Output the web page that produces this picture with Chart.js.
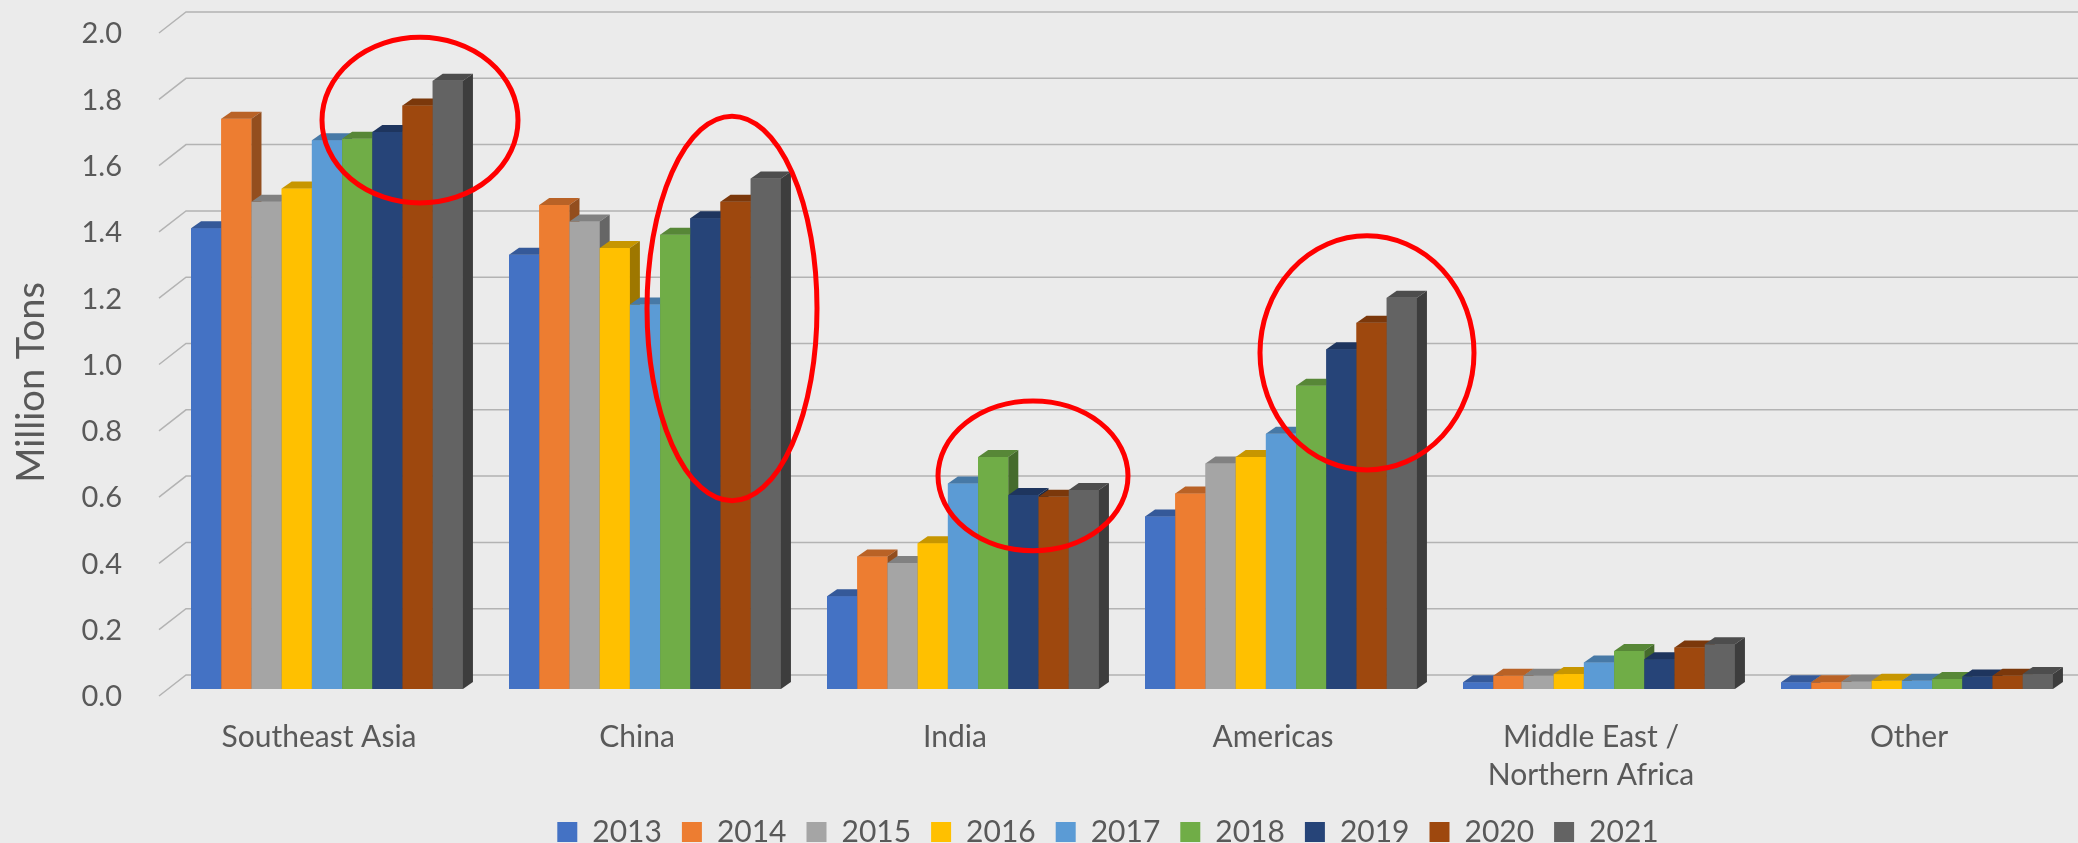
<!DOCTYPE html>
<html><head><meta charset="utf-8">
<script src="https://cdn.jsdelivr.net/npm/chart.js@4.4.1/dist/chart.umd.min.js"></script>
<style>html,body{margin:0;padding:0;background:#EBEBEB;overflow:hidden}canvas{display:block}</style>
</head><body>
<canvas id="ch" width="2078" height="843"></canvas>
<script>
// Region exports by year, 3D-look clustered columns (Excel style)
const regions=["Southeast Asia","China","India","Americas",["Middle East /","Northern Africa"],"Other"];
const years=["2013","2014","2015","2016","2017","2018","2019","2020","2021"];
const yTicks=[0,0.2,0.4,0.6,0.8,1.0,1.2,1.4,1.6,1.8,2.0];
const v2013=[1.39,1.31,0.28,0.52,0.02,0.02];
const v2014=[1.72,1.46,0.40,0.59,0.04,0.02];
const v2015=[1.47,1.41,0.38,0.68,0.04,0.022];
const v2016=[1.51,1.33,0.44,0.70,0.045,0.025];
const v2017=[1.655,1.16,0.62,0.77,0.08,0.025];
const v2018=[1.66,1.37,0.70,0.915,0.115,0.03];
const v2019=[1.68,1.42,0.585,1.025,0.09,0.038];
const v2020=[1.76,1.47,0.58,1.105,0.125,0.04];
const v2021=[1.835,1.54,0.60,1.18,0.135,0.045];
const series=[v2013,v2014,v2015,v2016,v2017,v2018,v2019,v2020,v2021];
const colors=["#4472C4","#ED7D31","#A5A5A5","#FFC000","#5B9BD5","#70AD47","#264478","#9E480E","#636363"];
// red hand-drawn rings: category index, px offset, centre value, x radius px, y radius in value units
const rings=[{c:0,dx:93,v:1.716,rx:98,rv:0.25},{c:1,dx:87,v:1.148,rx:85,rv:0.58},{c:2,dx:70,v:0.643,rx:95,rv:0.226},{c:3,dx:86,v:1.014,rx:107,rv:0.353}];

const DX=10,DY=7;
function shade(hex,f){const n=parseInt(hex.slice(1),16);return `rgb(${Math.round((n>>16)*f)},${Math.round(((n>>8)&255)*f)},${Math.round((n&255)*f)})`;}
function poly(ctx,pts){ctx.beginPath();pts.forEach((p,i)=>i?ctx.lineTo(p[0],p[1]):ctx.moveTo(p[0],p[1]));ctx.closePath();ctx.fill();}

const wall={id:"wall",beforeDatasetsDraw(chart){
  const {ctx,chartArea:a,scales:{y}}=chart;ctx.save();ctx.strokeStyle="#B3B3B3";ctx.lineWidth=1.5;
  y.ticks.forEach(t=>{const py=y.getPixelForValue(t.value);ctx.beginPath();ctx.moveTo(a.left-9,py+7);ctx.lineTo(a.left+18,py-14);ctx.lineTo(chart.width,py-14);ctx.stroke();});
  ctx.restore();}};
// redraw the columns left to right so each front hides the side of the one before it
const bar3d={id:"bar3d",afterDatasetsDraw(chart){
  const ctx=chart.ctx;ctx.save();
  chart.data.datasets.forEach((ds,i)=>{const col=ds.backgroundColor;
    chart.getDatasetMeta(i).data.forEach(b=>{const p=b.getProps(["x","y","base","width"],true);const l=p.x-p.width/2,r=p.x+p.width/2,t=p.y,bs=p.base;
      b.draw(ctx);
      ctx.fillStyle=shade(col,0.78);poly(ctx,[[l,t],[r,t],[r+DX,t-DY],[l+DX,t-DY]]);
      ctx.fillStyle=shade(col,0.62);poly(ctx,[[r,t],[r+DX,t-DY],[r+DX,bs-DY],[r,bs]]);});});
  ctx.restore();}};
const extras={id:"extras",
  afterLayout(chart){const lg=chart.legend;lg.left+=70;lg.right+=70;},
  afterDraw(chart){
    const {ctx,chartArea:a,scales:{x,y}}=chart;ctx.save();
    ctx.translate(32,(a.top+a.bottom)/2+25);ctx.rotate(-Math.PI/2);ctx.fillStyle="#595959";ctx.font="38px Lato";ctx.textAlign="center";ctx.textBaseline="middle";ctx.fillText("Million Tons",0,0);
    ctx.restore();ctx.save();ctx.strokeStyle="#FF0000";ctx.lineWidth=5;
    rings.forEach(r=>{const cx=x.getPixelForValue(r.c)+r.dx,cy=y.getPixelForValue(r.v),ry=y.getPixelForValue(0)-y.getPixelForValue(r.rv);ctx.beginPath();ctx.ellipse(cx,cy,r.rx,ry,0,0,Math.PI*2);ctx.stroke();});
    ctx.restore();}};

Chart.defaults.font.family="Lato";Chart.defaults.color="#595959";
new Chart(document.getElementById("ch"),{type:"bar",
  data:{labels:regions,datasets:years.map((yr,i)=>({label:yr,data:series[i],backgroundColor:colors[i],borderWidth:0}))},
  options:{responsive:false,animation:false,devicePixelRatio:1,
    layout:{padding:{top:26,right:2,left:0,bottom:-14}},
    datasets:{bar:{categoryPercentage:0.855,barPercentage:1}},
    plugins:{legend:{position:"bottom",labels:{boxWidth:20,boxHeight:20,padding:20,font:{size:30}}},tooltip:{enabled:false}},
    scales:{
      x:{grid:{display:false},border:{display:false},ticks:{font:{size:30,lineHeight:1.27},padding:21,labelOffset:-8,maxRotation:0,autoSkip:false},
        afterFit:s=>{s.height=108;s.paddingLeft=0;s.paddingRight=0;}},
      y:{min:0,max:2,grid:{display:false},border:{display:false},ticks:{font:{size:29},padding:38,labelOffset:8,callback:v=>v.toFixed(1)},
        afterBuildTicks:s=>{s.ticks=yTicks.map(v=>({value:v}));},afterFit:s=>{s.width=168;s.paddingTop=0;s.paddingBottom=0;}}
    }},
  plugins:[wall,bar3d,extras]});
</script>
</body></html>
